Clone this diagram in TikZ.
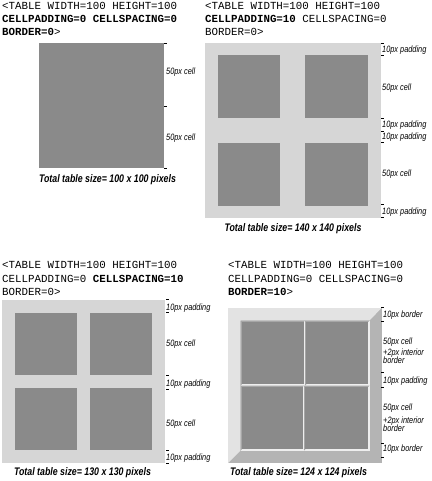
\documentclass[tikz,border=0pt]{standalone}
\usepackage{fontspec}
\newfontfamily\codefont{Liberation Mono}
\newfontfamily\labfont[FakeStretch=0.8]{Liberation Sans}
\definecolor{cellgray}{HTML}{8A8A8A}
\definecolor{padgray}{HTML}{D6D6D6}
\definecolor{bevlight}{HTML}{E3E3E3}
\definecolor{bevdark}{HTML}{B4B4B4}
\definecolor{sunklight}{HTML}{EEEEEE}
\definecolor{sunkdark}{HTML}{A6A6A6}
\tikzset{
  codeline/.style={anchor=base west, inner sep=0pt, font=\codefont\fontsize{10.8}{12}\selectfont},
  lab/.style={anchor=base west, inner sep=0pt, font=\labfont\itshape\fontsize{9.2}{8}\selectfont},
  captext/.style={anchor=base, inner sep=0pt, font=\labfont\bfseries\itshape\fontsize{11}{13}\selectfont},
  tickmark/.style={line width=0.8pt, black},
  cellbox/.style={fill=cellgray},
  padbox/.style={fill=padgray},
}
\newcommand{\sunkcell}[4]{%
  \fill[sunklight] (#1,#2) rectangle (#3,#4);
  \fill[sunkdark] (#1,#2) -- (#3,#2) -- ({#3-1.25},{#2+1.25}) -- ({#1+1.25},{#2+1.25}) -- ({#1+1.25},{#4-1.25}) -- (#1,#4) -- cycle;
  \fill[cellgray] ({#1+1.25},{#2+1.25}) rectangle ({#3-1.25},{#4-1.25});
}
\newcommand{\ticks}[2]{%
  \foreach \ty in {#2} { \draw[tickmark] (#1,\ty) -- ({#1+3},\ty); }
}
\begin{document}
\begin{tikzpicture}[x=1pt,y=-1pt]
\useasboundingbox[fill=white] (0,0) rectangle (431,481);

% ---------- Panel 1 ----------
\node[codeline] (c1a) at (2,9.8) {<TABLE WIDTH=100 HEIGHT=100};
\node[codeline] (c1b) at (2,22.5) {\bfseries CELLPADDING=0 CELLSPACING=0};
\node[codeline] (c1c) at (2,35.7) {\bfseries BORDER=0\mdseries>};
\fill[cellgray] (39,43) rectangle (164,168);
\ticks{164}{43,106,168}
\node[lab] (l1a) at (166,74.3) {50px cell};
\node[lab] (l1b) at (166,140.3) {50px cell};
\node[captext] (cap1) at (107.5,182.5) {Total table size= 100 x 100 pixels};

% ---------- Panel 2 ----------
\node[codeline] (c2a) at (205,9.8) {<TABLE WIDTH=100 HEIGHT=100};
\node[codeline] (c2b) at (205,22.5) {\bfseries CELLPADDING=10\mdseries{} CELLSPACING=0};
\node[codeline] (c2c) at (205,35.7) {BORDER=0>};
\fill[padgray] (205,43) rectangle (381,218);
\fill[cellgray] (217.5,55.5) rectangle (280,118);
\fill[cellgray] (305,55.5) rectangle (367.5,118);
\fill[cellgray] (217.5,143) rectangle (280,205.5);
\fill[cellgray] (305,143) rectangle (367.5,205.5);
\ticks{381}{43,55,118,131,142,204,217}
\node[lab] (l2a) at (382,52.3) {10px padding};
\node[lab] (l2b) at (382,90.3) {50px cell};
\node[lab] (l2c) at (382,127.3) {10px padding};
\node[lab] (l2d) at (382,139.3) {10px padding};
\node[lab] (l2e) at (382,176.3) {50px cell};
\node[lab] (l2f) at (382,214.3) {10px padding};
\node[captext] (cap2) at (293,231.7) {Total table size= 140 x 140 pixels};

% ---------- Panel 3 ----------
\node[codeline] (c3a) at (2,268.3) {<TABLE WIDTH=100 HEIGHT=100};
\node[codeline] (c3b) at (2,282) {CELLPADDING=0 \bfseries CELLSPACING=10};
\node[codeline] (c3c) at (2,295.7) {BORDER=0>};
\fill[padgray] (2,300) rectangle (164.5,462.5);
\fill[cellgray] (14.5,312.5) rectangle (77,375);
\fill[cellgray] (89.5,312.5) rectangle (152,375);
\fill[cellgray] (14.5,387.5) rectangle (77,450);
\fill[cellgray] (89.5,387.5) rectangle (152,450);
\ticks{166}{299,312,375,389,450,463}
\node[lab] (l3a) at (166,310.3) {10px padding};
\node[lab] (l3b) at (166,346.3) {50px cell};
\node[lab] (l3c) at (166,386.3) {10px padding};
\node[lab] (l3d) at (166,426.3) {50px cell};
\node[lab] (l3e) at (166,460.3) {10px padding};
\node[captext] (cap3) at (82.5,475.7) {Total table size= 130 x 130 pixels};

% ---------- Panel 4 ----------
\node[codeline] (c4a) at (228,268.3) {<TABLE WIDTH=100 HEIGHT=100};
\node[codeline] (c4b) at (228,282) {CELLPADDING=0 CELLSPACING=0};
\node[codeline] (c4c) at (228,295.7) {\bfseries BORDER=10\mdseries>};
\fill[bevdark] (228,308) rectangle (381.5,463);
\fill[bevlight] (228,308) -- (381.5,308) -- (369.5,320.5) -- (240.5,320.5) -- (240.5,450.5) -- (228,463) -- cycle;
\sunkcell{240.5}{320.5}{305}{385.5}
\sunkcell{305}{320.5}{369.5}{385.5}
\sunkcell{240.5}{385.5}{304}{450.5}
\sunkcell{304}{385.5}{369.5}{450.5}
\ticks{381}{307,321,372,387,443,457}
\node[lab] (l4a) at (383,317.3) {10px border};
\node[lab] (l4b) at (383,344.3) {50px cell};
\node[lab] (l4c) at (383,355.3) {+2px interior};
\node[lab] (l4d) at (383,363.3) {border};
\node[lab] (l4e) at (383,383.3) {10px padding};
\node[lab] (l4f) at (383,410.3) {50px cell};
\node[lab] (l4g) at (383,423.3) {+2px interior};
\node[lab] (l4h) at (383,431.3) {border};
\node[lab] (l4i) at (383,451.3) {10px border};
\node[captext] (cap4) at (298.5,475.7) {Total table size= 124 x 124 pixels};
\end{tikzpicture}
\end{document}
